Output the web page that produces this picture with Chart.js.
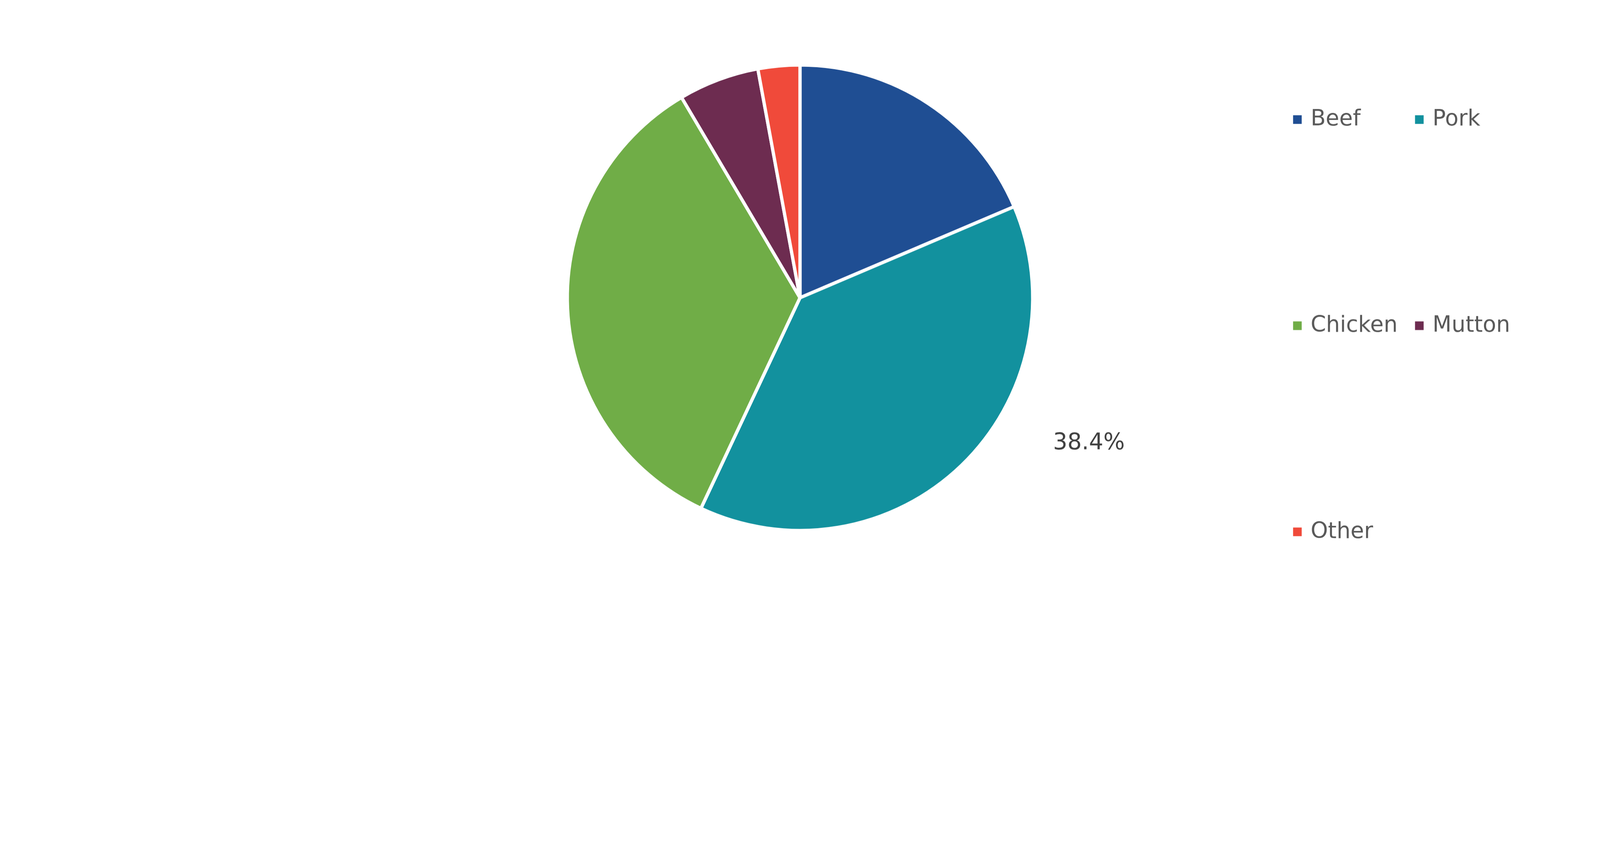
<!DOCTYPE html>
<html>
<head>
<meta charset="utf-8">
<script src="https://cdn.jsdelivr.net/npm/chart.js@4"></script>
<style>
  html, body { margin: 0; padding: 0; background: #fff; overflow: hidden; }
  #wrap { position: relative; width: 100vw; height: calc(100vw * 2200 / 5380); }
</style>
</head>
<body>
<div id="wrap"><canvas id="myChart"></canvas></div>
<script>
// chart data
const categories = ['Beef', 'Pork', 'Chicken', 'Mutton', 'Other'];
const shares = [18.6, 38.4, 34.5, 5.6, 2.9];
const colors = ['#1F4E93', '#12919E', '#70AD47', '#6D2C50', '#F04A3A'];
const labelledSlices = ['Pork'];

const fontFamily = '"DejaVu Sans", Verdana, sans-serif';

// everything was measured on a 5380 wide picture, scale from that
function sc(chart) {
  return chart.width / 5380;
}

// draws the single outside percentage label
const sliceLabelPlugin = {
  id: 'sliceLabel',
  afterDatasetsDraw(chart) {
    const s = sc(chart);
    const ctx = chart.ctx;
    const meta = chart.getDatasetMeta(0);
    ctx.save();
    ctx.font = `${76 * s}px ${fontFamily}`;
    ctx.fillStyle = '#404040';
    ctx.textAlign = 'center';
    ctx.textBaseline = 'middle';
    meta.data.forEach((arc, i) => {
      if (!labelledSlices.includes(categories[i])) return;
      const a = arc.startAngle + (arc.endAngle - arc.startAngle) * 0.36;
      const r = arc.outerRadius * 1.39;
      ctx.fillText(shares[i].toFixed(1) + '%', arc.x + Math.cos(a) * r, arc.y + Math.sin(a) * r);
    });
    ctx.restore();
  }
};

// legend in two columns, row by row
const gridLegendPlugin = {
  id: 'gridLegend',
  afterDraw(chart) {
    const s = sc(chart);
    const ctx = chart.ctx;
    const left = 4348 * s, top = 402 * s, colGap = 410 * s, rowGap = 693 * s, box = 29 * s;
    ctx.save();
    ctx.font = `${74 * s}px ${fontFamily}`;
    ctx.textBaseline = 'middle';
    ctx.textAlign = 'left';
    categories.forEach((name, i) => {
      const x = left + (i % 2) * colGap;
      const y = top + Math.floor(i / 2) * rowGap;
      ctx.fillStyle = colors[i];
      ctx.fillRect(x, y - box / 2, box, box);
      ctx.fillStyle = '#595959';
      ctx.fillText(name, x + box + 30 * s, y + s);
    });
    ctx.restore();
  }
};

const ctx = document.getElementById('myChart').getContext('2d');
const chart = new Chart(ctx, {
  type: 'pie',
  data: {
    labels: categories,
    datasets: [{
      data: shares,
      backgroundColor: colors,
      borderColor: '#ffffff',
      borderWidth: (c) => 11 * sc(c.chart)
    }]
  },
  options: {
    responsive: true,
    maintainAspectRatio: false,
    animation: false,
    layout: {
      padding: (c) => {
        const s = sc(c.chart);
        return { top: 213 * s, bottom: 411 * s, left: 0, right: 0 };
      }
    },
    plugins: {
      legend: { display: false },
      tooltip: { enabled: false }
    }
  },
  plugins: [sliceLabelPlugin, gridLegendPlugin]
});
</script>
</body>
</html>
